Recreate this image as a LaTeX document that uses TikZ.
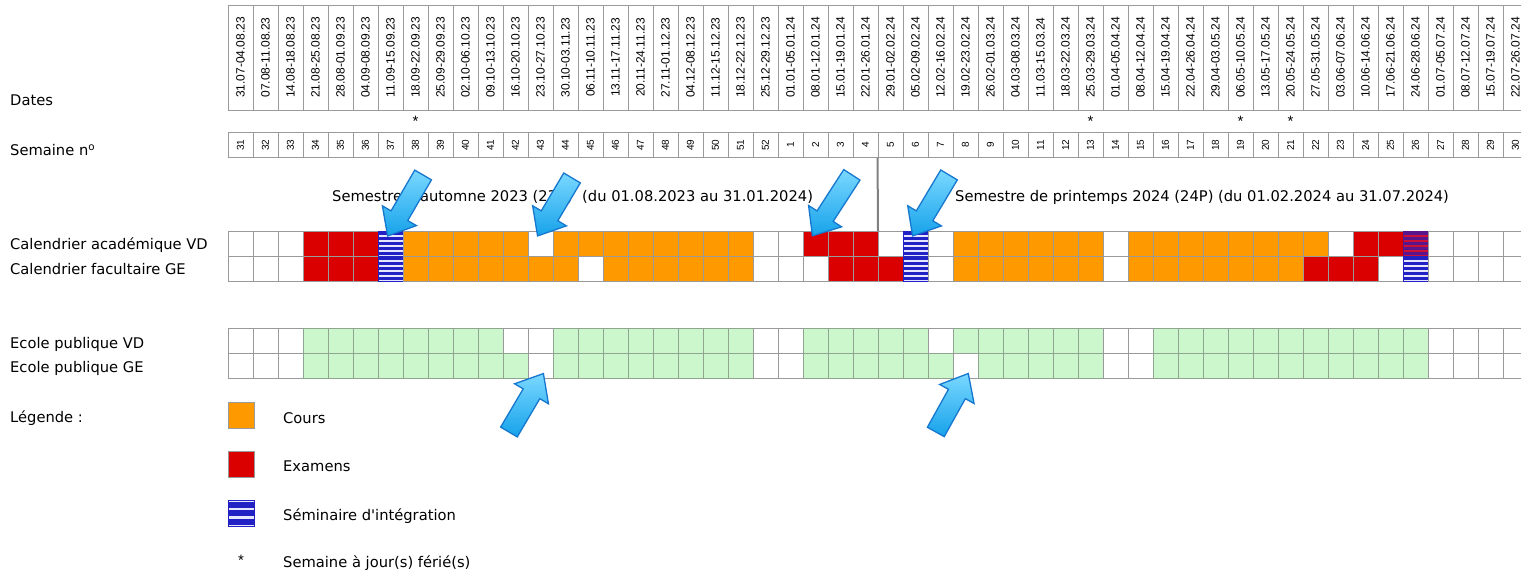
\documentclass[tikz,border=0pt]{standalone}
\usepackage{fontspec}
\setmainfont{DejaVu Sans}
\newfontfamily\gridfont{Liberation Sans}
\usetikzlibrary{calc,shapes.arrows}

\definecolor{gridgray}{HTML}{9A9A9A}
\definecolor{coursorange}{HTML}{FF9900}
\definecolor{examred}{HTML}{DA0000}
\definecolor{semblue}{HTML}{2121C4}
\definecolor{semlight}{HTML}{E6E6FF}
\definecolor{mixpurple}{HTML}{5A148C}
\definecolor{mixred}{HTML}{CC1038}
\definecolor{schoolgreen}{HTML}{CCF6CC}
\definecolor{schoolline}{HTML}{8FA58F}
\definecolor{sepgray}{HTML}{808080}
\definecolor{pointerline}{HTML}{1677CF}
\definecolor{pointertop}{HTML}{7AD8FF}
\definecolor{pointerbot}{HTML}{16A2EA}

\tikzset{
  wkcell/.style={draw=gridgray, line width=0.9pt, minimum width=25pt, minimum height=25pt, inner sep=0pt, outer sep=0pt},
  wk-e/.style={wkcell, fill=white},
  wk-c/.style={wkcell, fill=coursorange},
  wk-x/.style={wkcell, fill=examred},
  wk-g/.style={wkcell, draw=schoolline, fill=schoolgreen},
  wk-s/.style={wkcell, draw=semblue, fill=semlight, path picture={
      \foreach \k in {0,...,4}
        \fill[semblue] ([yshift={-1pt-5pt*\k}]path picture bounding box.north west) rectangle ++(25pt,-3pt);}},
  wk-p/.style={wkcell, draw=mixpurple, fill=mixred, path picture={
      \foreach \k in {0,...,4}
        \fill[mixpurple] ([yshift={-1pt-5pt*\k}]path picture bounding box.north west) rectangle ++(25pt,-3pt);}},
  key-s/.style={wkcell, minimum size=26pt, draw=semblue, fill=semlight, path picture={
      \foreach \k in {0,1,2}
        \fill[semblue] ([yshift={-1.5pt-8.5pt*\k}]path picture bounding box.north west) rectangle ++(26pt,-6pt);}},
  rowlabel/.style={anchor=west, inner sep=0pt, font=\fontsize{14.7}{16}\selectfont},
  datebox/.style={draw=gridgray, line width=0.9pt, rotate=90, minimum width=105pt, minimum height=25pt, inner sep=0pt, font=\gridfont\fontsize{12}{14}\selectfont},
  weekbox/.style={draw=gridgray, line width=0.9pt, rotate=90, minimum width=25pt, minimum height=25pt, inner sep=0pt, font=\gridfont\fontsize{10}{12}\selectfont},
  holiday/.style={inner sep=0pt, font=\gridfont\fontsize{15}{16}\selectfont},
  sepline/.style={sepgray, line width=2pt},
  pointer/.style={single arrow, draw=pointerline, line width=1.3pt, top color=pointertop, bottom color=pointerbot,
    inner xsep=0pt, inner ysep=9pt, single arrow head extend=10pt, single arrow tip angle=80, single arrow head indent=0pt}
}

% name, tail, tip
\newcommand\pointer[3]{%
  \path let \p1=($(#3)-(#2)$) in
    node[pointer, rotate={atan2(\y1,\x1)}, minimum height={veclen(\x1,\y1)}] (#1) at ($(#2)!0.5!(#3)$) {};}

\def\rowVD{e,e,e,x,x,x,s,c,c,c,c,c,e,c,c,c,c,c,c,c,c,e,e,x,x,x,e,s,e,c,c,c,c,c,c,e,c,c,c,c,c,c,c,c,e,x,x,p,e,e,e,e}
\def\rowGE{e,e,e,x,x,x,s,c,c,c,c,c,c,c,e,c,c,c,c,c,c,e,e,e,x,x,x,s,e,c,c,c,c,c,c,e,c,c,c,c,c,c,c,x,x,x,e,s,e,e,e,e}
\def\schoolVD{e,e,e,g,g,g,g,g,g,g,g,e,e,g,g,g,g,g,g,g,g,e,e,g,g,g,g,g,e,g,g,g,g,g,g,e,e,g,g,g,g,g,g,g,g,g,g,g,e,e,e,e}
\def\schoolGE{e,e,e,g,g,g,g,g,g,g,g,g,e,g,g,g,g,g,g,g,g,e,e,g,g,g,g,g,g,e,g,g,g,g,g,e,e,g,g,g,g,g,g,g,g,g,g,g,e,e,e,e}

\begin{document}
\begin{tikzpicture}[x=1pt,y=-1pt]
  \useasboundingbox (0,0) rectangle (1521,574);
  \clip (0,0) rectangle (1521,574);

  \node[rowlabel] (t-dates) at (10,100) {Dates};
  \node[rowlabel] (t-week) at (10,150) {Semaine n\textsuperscript{o}};
  \node[rowlabel] (t-vd) at (10,245) {Calendrier académique VD};
  \node[rowlabel] (t-ge) at (10,269) {Calendrier facultaire GE};
  \node[rowlabel] (t-svd) at (10,344) {Ecole publique VD};
  \node[rowlabel] (t-sge) at (10,368) {Ecole publique GE};
  \node[rowlabel] (t-key) at (10,418) {Légende :};

  \foreach \w/\d [count=\i from 0] in {31/31.07-04.08.23, 32/07.08-11.08.23, 33/14.08-18.08.23,
      34/21.08-25.08.23, 35/28.08-01.09.23, 36/04.09-08.09.23, 37/11.09-15.09.23, 38/18.09-22.09.23,
      39/25.09-29.09.23, 40/02.10-06.10.23, 41/09.10-13.10.23, 42/16.10-20.10.23, 43/23.10-27.10.23,
      44/30.10-03.11.23, 45/06.11-10.11.23, 46/13.11-17.11.23, 47/20.11-24.11.23, 48/27.11-01.12.23,
      49/04.12-08.12.23, 50/11.12-15.12.23, 51/18.12-22.12.23, 52/25.12-29.12.23, 1/01.01-05.01.24,
      2/08.01-12.01.24, 3/15.01-19.01.24, 4/22.01-26.01.24, 5/29.01-02.02.24, 6/05.02-09.02.24,
      7/12.02-16.02.24, 8/19.02-23.02.24, 9/26.02-01.03.24, 10/04.03-08.03.24, 11/11.03-15.03.24,
      12/18.03-22.03.24, 13/25.03-29.03.24, 14/01.04-05.04.24, 15/08.04-12.04.24, 16/15.04-19.04.24,
      17/22.04-26.04.24, 18/29.04-03.05.24, 19/06.05-10.05.24, 20/13.05-17.05.24, 21/20.05-24.05.24,
      22/27.05-31.05.24, 23/03.06-07.06.24, 24/10.06-14.06.24, 25/17.06-21.06.24, 26/24.06-28.06.24,
      27/01.07-05.07.24, 28/08.07-12.07.24, 29/15.07-19.07.24, 30/22.07-26.07.24} {
    \node[datebox] (d-\i) at ({240.5+25*\i},57.5) {\d};
    \node[weekbox] (w-\i) at ({240.5+25*\i},145) {\w};
  }
  \foreach \i in {7,34,40,42}
    \node[holiday] (h-\i) at ({240.5+25*\i},121) {*};

  \foreach \t [count=\i from 0] in \rowVD
    \node[wk-\t] (vd-\i) at ({240.5+25*\i},243.5) {};
  \foreach \t [count=\i from 0] in \rowGE
    \node[wk-\t] (ge-\i) at ({240.5+25*\i},268.5) {};
  \foreach \t [count=\i from 0] in \schoolVD
    \node[wk-\t] (svd-\i) at ({240.5+25*\i},341) {};
  \foreach \t [count=\i from 0] in \schoolGE
    \node[wk-\t] (sge-\i) at ({240.5+25*\i},366) {};

  \draw[sepline] (w-26.north west) -- (vd-26.north west);
  \node[rowlabel] (autumn) at (332,197) {Semestre d\textquotesingle automne 2023 (23A)\ \ (du 01.08.2023 au 31.01.2024)};
  \node[rowlabel] (spring) at (955,197) {Semestre de printemps 2024 (24P) (du 01.02.2024 au 31.07.2024)};

  \node[wk-c, minimum size=26pt] (key-c) at (241,415) {};
  \node[rowlabel] (key-c-text) at (283,418) {Cours};
  \node[wk-x, minimum size=26pt] (key-x) at (241,464.5) {};
  \node[rowlabel] (key-x-text) at (283,466) {Examens};
  \node[key-s] (key-s) at (241,513) {};
  \node[rowlabel] (key-s-text) at (283,516) {Séminaire d\textquotesingle intégration};
  \node[holiday] (key-h) at (241,560) {*};
  \node[rowlabel] (key-h-text) at (283,563) {Semaine à jour(s) férié(s)};

  \coordinate (tail1) at (426,170);
  \coordinate (tail2) at (575,173);
  \coordinate (tail3) at (855,170);
  \coordinate (tail4) at (952,170);
  \coordinate (tail5) at (506,437);
  \coordinate (tail6) at (933,437);
  \pointer{p1}{tail1}{vd-6.north}
  \pointer{p2}{tail2}{vd-12.north}
  \pointer{p3}{tail3}{vd-23.north}
  \pointer{p4}{tail4}{vd-27.north}
  \pointer{p5}{tail5}{sge-12.south}
  \pointer{p6}{tail6}{sge-29.south}
\end{tikzpicture}
\end{document}
